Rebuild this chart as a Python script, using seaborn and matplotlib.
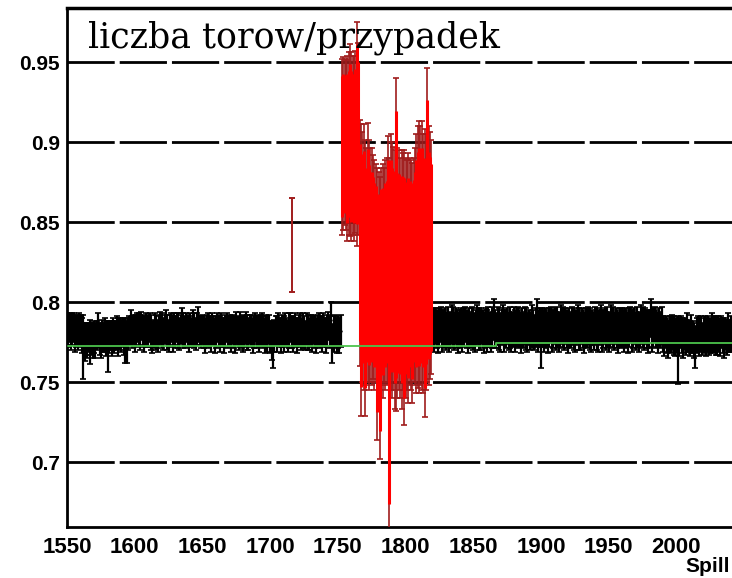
import numpy as np
import pandas as pd
import matplotlib
matplotlib.use("Agg")
import matplotlib.pyplot as plt
from matplotlib.ticker import MultipleLocator
import seaborn as sns

# ---------------- data (values in thousandths) ----------------
black_left_first_spill = 1550   # spills 1550..1752
black_left_v = [
    783,782,784,781,783,784,780,782,781,783,782,779,772,775,777,776,778,775,777,776,
    778,776,779,782,777,776,779,778,780,777,772,778,779,777,780,778,779,781,778,780,
    779,781,778,776,775,780,782,784,781,783,780,782,784,783,781,785,782,780,783,781,
    782,784,781,778,780,783,781,779,782,784,782,780,783,785,781,779,782,784,780,783,
    781,784,782,780,783,786,782,781,784,782,780,783,781,785,782,780,783,786,782,781,
    783,781,779,782,784,781,780,783,782,779,781,784,782,780,783,781,779,782,784,781,
    782,780,783,781,779,784,782,780,783,781,778,782,784,781,780,783,782,779,781,784,
    781,783,780,782,784,781,779,782,780,783,778,776,772,779,782,780,783,781,779,782,
    780,783,781,779,782,784,781,780,783,781,779,782,784,780,782,781,779,783,781,780,
    782,780,783,781,779,782,784,781,780,783,781,779,782,785,781,789,774,780,782,779,
    781,779,782,
]
black_left_e = [
    10,10, 9,11,10, 9,11,10,11,10,10,11,20,12,10,11, 9,14,10,11,
    10,11, 9,11,10,11,10, 9,10,11,16,10, 9,11,10,10, 9,10,12,10,
    10, 9,11,14,13,10, 9,11,10, 9,11,10, 9,10,11, 9,10,11,10, 9,
    10, 9,11,10, 9,10,11,10, 9,10,11,10, 9,10,11,10,10, 9,11,10,
    10, 9,11,10, 9,10,11,10, 9,10,11,10, 9,10,11,10,10,11, 9,10,
     9,10,11,10, 9,10,11,10, 9,11,10, 9,10,11,10, 9,11,10, 9,10,
    10,11, 9,10,11,10, 9,10,11,10, 9,10,10,11,10, 9,10,11,10, 9,
    10, 9,11,10, 9,10,11,10,11, 9,10,12,13,10, 9,11,10, 9,11,10,
    11,10, 9,10,11, 9,10,11,10, 9,11,10, 9,10,11,10, 9,10,11,10,
    10,11, 9,10,11,10, 9,10,11,10, 9,11,10, 9,10,11,12,11,10,11,
    10,11,10,
]

black_right_first_spill = 1820  # spills 1820..2040
black_right_v = [
    784,782,785,783,781,784,786,782,783,785,782,784,781,783,786,784,782,785,783,781,
    783,785,782,784,786,783,781,784,782,785,783,781,784,786,783,782,785,783,781,784,
    782,785,783,781,784,789,783,782,785,783,781,784,786,782,783,785,782,784,781,783,
    785,782,784,786,783,781,784,782,785,783,781,784,782,785,783,781,784,790,782,784,
    773,784,782,785,783,781,784,786,782,783,785,782,784,781,783,786,784,782,785,783,
    781,784,782,785,783,781,784,786,783,782,785,783,781,784,782,785,783,781,784,782,
    785,783,781,784,786,782,783,785,782,784,781,783,786,784,782,785,783,781,784,782,
    784,782,785,783,781,784,786,782,783,785,782,784,781,783,786,784,782,785,783,781,
    783,790,782,784,786,783,781,784,782,785,780,778,781,779,777,780,778,781,779,777,
    779,770,778,781,779,777,780,778,781,779,777,780,778,776,772,779,781,778,780,777,
    779,781,778,780,777,779,781,778,780,779,777,780,778,781,779,777,780,778,781,779,780,
]
black_right_e = [
    12,13,11,12,13,12,11,13,12,11,12,13,12,11,12,13,12,11,12,13,
    12,11,13,12,11,12,13,12,11,12,13,12,11,12,13,12,11,12,13,12,
    13,12,11,12,13,13,12,11,12,13,12,11,12,13,12,11,12,13,12,11,
    12,13,12,11,12,13,12,11,12,13,12,11,12,13,12,11,12,12,13,12,
    14,12,13,11,12,13,12,11,13,12,11,12,13,12,11,12,13,12,11,12,
    13,12,11,12,13,12,11,12,13,12,11,12,13,12,11,12,13,12,11,12,
    12,13,12,11,12,13,12,11,12,13,12,11,12,13,12,11,12,13,12,11,
    12,13,11,12,13,12,11,13,12,11,12,13,12,11,12,13,12,11,12,13,
    12,12,13,12,11,12,13,12,11,12,11,12,10,11,12,11,10,11,12,11,
    11,21,12,10,11,12,10,11,12,10,11,12,10,11,13,11,10,12,11,10,
    11,10,12,11,10,11,12,10,11,12,10,11,12,10,11,12,10,11,12,10,11,
]

red_first_spill = 1753          # spills 1753..1819
red_v = [
    897,899,900,898,896,899,901,897,898,896,900,905,902,
    837,820,828,828,815,822,831,823,823,822,822,817,818,799,813,790,816,813,817,817,
    819,827,770,825,820,821,814,836,818,820,815,814,819,809,815,817,815,819,817,812,
    820,822,824,828,828,829,829,824,818,825,848,829,829,828,
]
red_e = [
    55,54,52,53,58,57,60,59,56,58,57,70,60,
    77,91,78,83,86,74,81,78,73,74,70,72,68,85,68,88,68,73,67,72,
    71,77,120,80,80,76,81,104,78,75,75,81,74,86,75,72,78,71,72,75,
    70,74,81,82,85,81,84,81,90,80,98,81,77,73,
]

single_red_spill = [1716]
single_red_v = [835.5]
single_red_e = [29.5]

fit_spill = [1551, 1867, 2041]
fit_value = [0.7725, 0.7745, 0.7745]

y_ticks = [0.7, 0.75, 0.8, 0.85, 0.9, 0.95]
y_tick_labels = ["0.7", "0.75", "0.8", "0.85", "0.9", "0.95"]
x_ticks = [1550, 1600, 1650, 1700, 1750, 1800, 1850, 1900, 1950, 2000]
x_tick_labels = [str(t) for t in x_ticks]
title_text = "liczba torow/przypadek"
x_label = "Spill"

# ---------------- build frames ----------------
def frame(first, v, e, group):
    n = len(v)
    return pd.DataFrame({
        "spill": np.arange(first, first + n),
        "value": np.array(v) / 1000.0,
        "err": np.array(e) / 1000.0,
        "group": group,
    })

df_black = pd.concat([frame(black_left_first_spill, black_left_v, black_left_e, "ok"),
                      frame(black_right_first_spill, black_right_v, black_right_e, "ok")],
                     ignore_index=True)
df_red = frame(red_first_spill, red_v, red_e, "bad")
df_single = pd.DataFrame({"spill": single_red_spill,
                          "value": np.array(single_red_v) / 1000.0,
                          "err": np.array(single_red_e) / 1000.0,
                          "group": "bad"})
df_fit = pd.DataFrame({"spill": fit_spill, "value": fit_value})

# ---------------- figure ----------------
sns.set_theme(style="white")
plt.rcParams["font.family"] = ["Liberation Sans", "DejaVu Sans"]

fig = plt.figure(figsize=(7.32, 5.78), dpi=100)
ax = fig.add_axes([67 / 732, 51 / 578, 665 / 732, 519 / 578])

BRIGHT_RED = "#ff0000"
DARK_RED = "#a01c1c"

# black points
ax.errorbar(df_black["spill"], df_black["value"], yerr=df_black["err"], fmt="none",
            ecolor="black", elinewidth=1.6, capsize=2.5, capthick=1.2, zorder=3)
sns.scatterplot(data=df_black, x="spill", y="value", color="black", s=3,
                linewidth=0, ax=ax, zorder=3, legend=False)

# red points: dark whiskers with caps, bright core
ax.errorbar(df_red["spill"], df_red["value"], yerr=df_red["err"], fmt="none",
            ecolor=DARK_RED, elinewidth=1.2, capsize=2.5, capthick=1.2, zorder=4)
ax.errorbar(df_red["spill"], df_red["value"], yerr=df_red["err"] * 0.8, fmt="none",
            ecolor=BRIGHT_RED, elinewidth=2.2, capsize=0, zorder=4)
sns.scatterplot(data=df_red, x="spill", y="value", color=BRIGHT_RED, s=3,
                linewidth=0, ax=ax, zorder=4, legend=False)
ax.errorbar(df_single["spill"], df_single["value"], yerr=df_single["err"], fmt="none",
            ecolor=DARK_RED, elinewidth=1.4, capsize=2.5, capthick=1.4, zorder=4)

# green fit line
sns.lineplot(data=df_fit, x="spill", y="value", drawstyle="steps-post",
             color="#4cc44c", linewidth=1.3, ax=ax, zorder=6, legend=False)

# axes
ax.set_xlim(1551, 2041)
ax.set_ylim(0.6594, 0.98375)
ax.set_xticks(x_ticks)
ax.set_xticklabels(x_tick_labels, fontsize=16, fontweight="bold")
ax.set_yticks(y_ticks)
ax.set_yticklabels(y_tick_labels, fontsize=15, fontweight="bold")
ax.xaxis.set_minor_locator(MultipleLocator(10))
ax.yaxis.set_minor_locator(MultipleLocator(0.01))
ax.tick_params(axis="x", which="major", direction="in", length=11, width=1.5, pad=7, colors="black")
ax.tick_params(axis="x", which="minor", direction="in", length=5, width=1.5)
ax.tick_params(axis="y", which="major", direction="in", length=10, width=1.5, pad=5, colors="black")
ax.tick_params(axis="y", which="minor", direction="in", length=5, width=1.5)
ax.set_xlabel("")
ax.set_ylabel("")

ax.set_axisbelow(True)
ax.grid(False)
ax.yaxis.grid(True, which="major", color="black", linewidth=2.0,
              linestyle=(0, (17, 1.8)))

for side in ["top", "left", "bottom"]:
    ax.spines[side].set_visible(True)
    ax.spines[side].set_color("black")
ax.spines["top"].set_linewidth(2.5)
ax.spines["left"].set_linewidth(2.0)
ax.spines["bottom"].set_linewidth(2.0)
ax.spines["right"].set_visible(False)

ax.text((88 - 67) / 665, 0.923, title_text, transform=ax.transAxes,
        family=["DejaVu Serif"], fontsize=25, ha="left", va="baseline", color="black", zorder=7)

fig.text(730 / 732, 12 / 578, x_label, ha="right", va="center",
         fontsize=15, fontweight="bold", color="black")

fig.savefig("out.png", dpi=100)
